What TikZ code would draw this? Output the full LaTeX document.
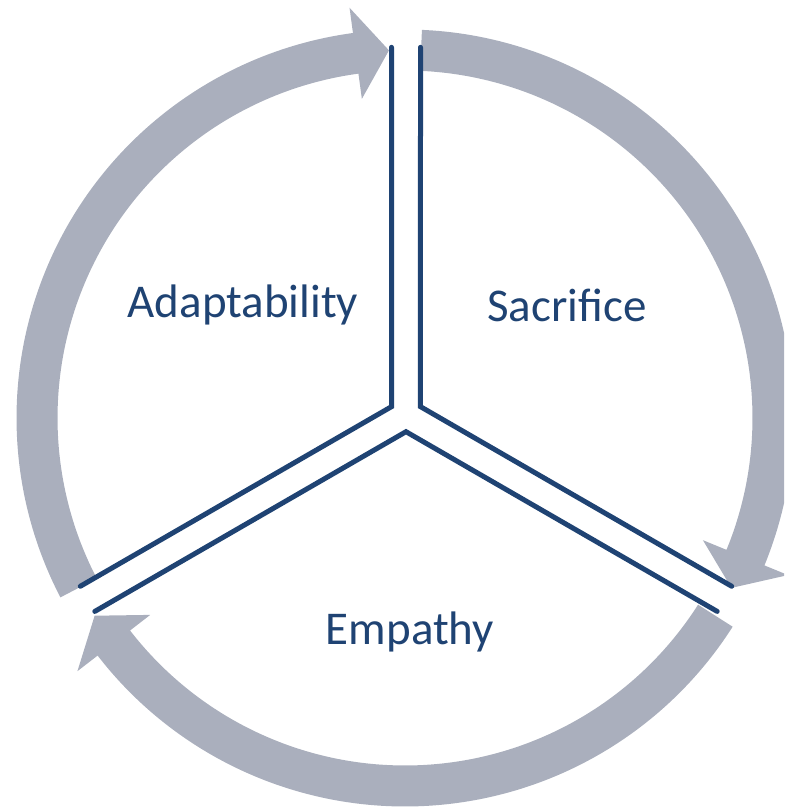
\documentclass[tikz,border=0pt]{standalone}
\usepackage{fontspec}
\setmainfont{Carlito}
\usetikzlibrary{calc}
\definecolor{ringgrey}{RGB}{170,175,189}
\definecolor{hubblue}{RGB}{31,67,115}
\tikzset{
    ringarrow/.style={
        fill=ringgrey,
        draw=none,
    },
    divider/.style={
        draw=hubblue,
        line width=5pt,
        line cap=round,
        line join=miter,
    },
    sectortext/.style={
        text=hubblue,
        font=\fontsize{47}{56}\selectfont,
        inner sep=0pt,
    }
}
% one grey arrow of the ring: start angle, tip angle (clockwise)
\newcommand{\cyclearrow}[2]{%
    \pgfmathsetmacro{\headback}{#2+5.2}
    \fill[ringarrow] ($(ring)+(#1:347.5)$)
        arc[start angle=#1, end angle=\headback, radius=347.5]
        -- ($(ring)+(\headback:322)$)
        -- ($(ring)+(#2:368)$)
        -- ($(ring)+(\headback:414)$)
        -- ($(ring)+(\headback:388.5)$)
        arc[start angle=\headback, end angle=#1, radius=388.5]
        -- cycle;
}

\begin{document}
\begin{tikzpicture}[x=1pt,y=1pt]
    \useasboundingbox (0,0) rectangle (784,808);
    \clip (0,0) rectangle (784,808);
    \coordinate (ring) at (405,390);
    \coordinate (hub) at (406,393);

    % ring of arrows
    \foreach \s/\t in {207.5/92.5, 87.5/-27.5, -32.5/-147.5}
        \cyclearrow{\s}{\t};

    % double dividers round the three sectors
    \foreach \a in {150,30,270}
        \draw[divider] ($(hub)+(\a-57.74:368)$) -- ($(hub)+(\a:16.7)$)
            -- ($(hub)+(\a+57.74:368)$);

    \node[sectortext] (adapt) at ($(hub)+(-163,110)$) {Adaptability};
    \node[sectortext] (sacrifice) at ($(hub)+(161,110)$) {Sacrifice};
    \node[sectortext] (empathy) at ($(hub)+(4,-217)$) {Empathy};
\end{tikzpicture}
\end{document}
